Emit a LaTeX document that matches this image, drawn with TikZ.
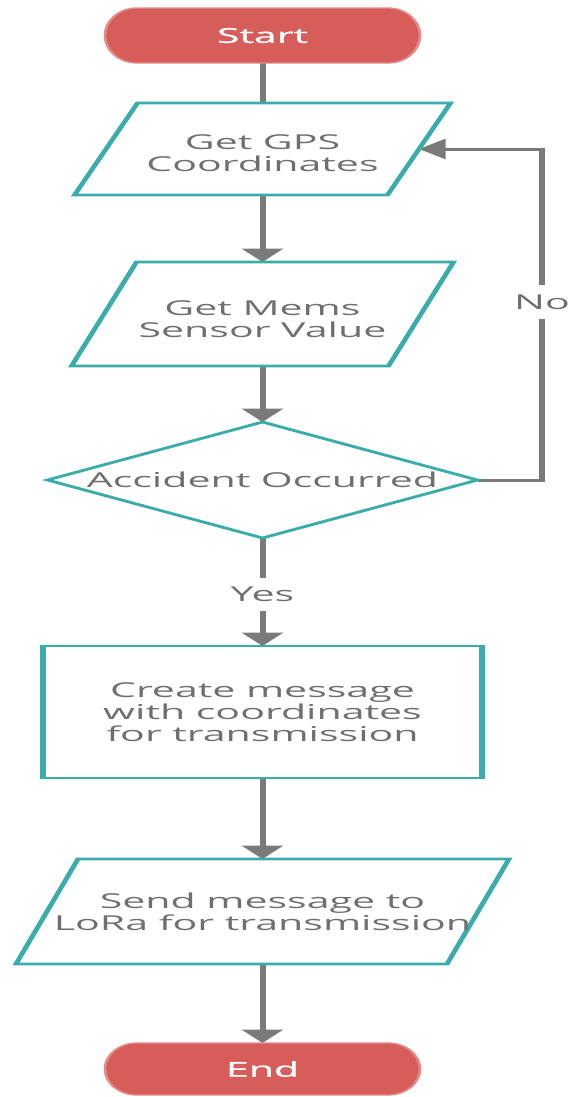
\documentclass[tikz,border=0pt]{standalone}
\usepackage{fontspec}
\setmainfont{Open Sans}
\newfontfamily\termfont{Open Sans}[FakeBold=0.8]
\usetikzlibrary{arrows.meta,calc}

\definecolor{flowteal}{HTML}{3AACA9}
\definecolor{flowgray}{HTML}{7A7A7A}
\definecolor{flowtext}{HTML}{6F6F6F}
\definecolor{termfill}{HTML}{D65D5A}
\definecolor{termedge}{HTML}{E58A86}

\tikzset{
  slot/.style={inner sep=0pt, outer sep=0pt},
  shapeline/.style={draw=flowteal, line width=1.95pt, fill=white, line join=miter},
  terminal/.style={fill=termfill, draw=termedge, line width=1pt},
  plain/.style={draw=flowgray, line width=2.25pt},
  conn/.style={plain, -{Triangle[length=10pt,width=15pt]}},
  tag/.style={fill=white, inner xsep=1.5pt, inner ysep=0pt, minimum height=25pt,
    text=flowtext, font=\fontsize{15.4}{16.5}\selectfont},
  txt/.style={text=flowtext, align=center, inner sep=0pt,
    font=\fontsize{15.4}{16.5}\selectfont},
  termtxt/.style={text=white, inner sep=0pt, font=\termfont\fontsize{15.4}{16.5}\selectfont},
}

\begin{document}
\begin{tikzpicture}[x=0.75pt,y=-0.75pt]
\useasboundingbox (0,0) rectangle (570,1097);
% the chart is laid out narrow and widened twice horizontally
\begin{scope}[transform canvas={xscale=2}]
  % frames of the steps
  \node[slot, minimum width=118.125pt, minimum height=41.25pt] (start)  at (131.25,35.5)  {};
  \node[slot, minimum width=117.375pt, minimum height=69pt]    (gps)    at (131.25,149)   {};
  \node[slot, minimum width=118.875pt, minimum height=78pt]    (mems)   at (131.25,314)   {};
  \node[slot, minimum width=161.25pt,  minimum height=87pt]    (dec)    at (131.25,480)   {};
  \node[slot, minimum width=164.625pt, minimum height=99pt]    (create) at (131.25,712)   {};
  \node[slot, minimum width=161.625pt, minimum height=78.75pt] (send)   at (131.25,911.5) {};
  \node[slot, minimum width=118.125pt, minimum height=39pt]    (finish) at (131.25,1069)  {};
  \coordinate (loop) at (271,149);

  % connectors
  \draw[plain] (start.south) -- (gps.north);
  \draw[conn] (gps.south) -- (mems.north);
  \draw[conn] (mems.south) -- (dec.north);
  \draw[conn] (dec.south) -- node[tag, yshift=-2pt] (yes) {Yes} (create.north);
  \draw[conn] (dec.east) -| (loop) -- (gps.east);
  \node[tag] (no) at (271,302) {No};
  \draw[conn] (create.south) -- (send.north);
  \draw[conn] (send.south) -- (finish.north);

  % outlines
  \draw[terminal] ($(start.north west)+(16,0)$) -- ($(start.north east)+(-16,0)$)
    arc[start angle=90, end angle=-90, x radius=12pt, y radius=20.625pt]
    -- ($(start.south west)+(16,0)$)
    arc[start angle=270, end angle=90, x radius=12pt, y radius=20.625pt] -- cycle;
  \draw[shapeline] ($(gps.north west)+(15.75,0)$) -- ($(gps.north east)+(15.75,0)$)
    -- ($(gps.south east)+(-15.75,0)$) -- ($(gps.south west)+(-15.75,0)$) -- cycle;
  \draw[shapeline] ($(mems.north west)+(16.25,0)$) -- ($(mems.north east)+(16.25,0)$)
    -- ($(mems.south east)+(-16.25,0)$) -- ($(mems.south west)+(-16.25,0)$) -- cycle;
  \draw[shapeline] (dec.north) -- (dec.east) -- (dec.south) -- (dec.west) -- cycle;
  \draw[shapeline] (create.north west) rectangle (create.south east);
  \draw[shapeline] ($(send.north west)+(15.5,0)$) -- ($(send.north east)+(15.5,0)$)
    -- ($(send.south east)+(-15.5,0)$) -- ($(send.south west)+(-15.5,0)$) -- cycle;
  \draw[terminal] ($(finish.north west)+(16,0)$) -- ($(finish.north east)+(-16,0)$)
    arc[start angle=90, end angle=-90, x radius=12pt, y radius=19.5pt]
    -- ($(finish.south west)+(16,0)$)
    arc[start angle=270, end angle=90, x radius=12pt, y radius=19.5pt] -- cycle;

  % texts
  \node[termtxt] (startT)  at (start)  {Start};
  \node[txt]     (gpsT)    at ($(gps)+(0,4)$)  {Get GPS\\Coordinates};
  \node[txt]     (memsT)   at ($(mems)+(0,5)$) {Get Mems\\Sensor Value};
  \node[txt]     (decT)    at (dec)    {Accident Occurred};
  \node[txt]     (createT) at (create) {Create message\\with coordinates\\for transmission};
  \node[txt]     (sendT)   at (send)   {Send message to\\LoRa for transmission};
  \node[termtxt] (finishT) at (finish) {End};
\end{scope}
\end{tikzpicture}
\end{document}
